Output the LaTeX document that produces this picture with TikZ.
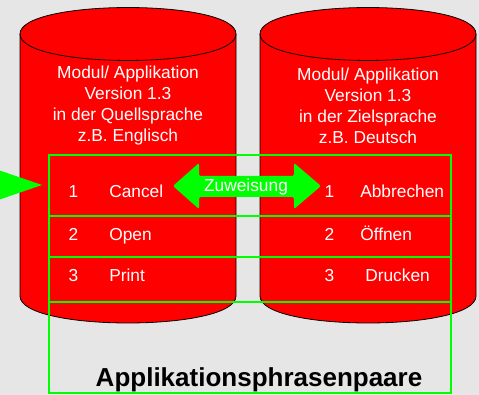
\documentclass[tikz,border=0pt]{standalone}
\usepackage{fontspec}
\setmainfont{Liberation Sans}
\usepackage{tikz}
\definecolor{hgrau}{RGB}{230,230,230}
\definecolor{zrot}{RGB}{255,0,0}
\definecolor{zgruen}{RGB}{0,255,0}
\tikzstyle{zylinder}=[fill=zrot, draw=black, line width=0.6pt]
\tikzstyle{tabelle}=[draw=zgruen, line width=2.2pt]
\tikzstyle{modtext}=[text=white, align=center
,font=\fontsize{13}{15.75}\selectfont
,inner sep=0pt
]
\tikzstyle{zeile}=[text=white, anchor=base west
,font=\fontsize{13}{15.75}\selectfont
,inner sep=0pt
]
\tikzstyle{nummer}=[zeile, anchor=base]
\tikzstyle{pfeil}=[fill=zgruen, rounded corners=1.5pt]

% one database cylinder between x = #1 and x = #2
\newcommand{\zyl}[2]{%
  \path[zylinder] (#1,34) -- (#1,296) .. controls (#1,332) and (#2,332) .. (#2,296)
     -- (#2,34) .. controls (#2,-1.3) and (#1,-1.3) .. (#1,34) -- cycle;
  \draw[line width=0.6pt] (#1,34) .. controls (#1,69.3) and (#2,69.3) .. (#2,34);
}

\begin{document}
\begin{tikzpicture}[x=0.75pt, y=-0.75pt]
    \useasboundingbox (0,0) rectangle (479,395);
    \clip (0,0) rectangle (479,395);
    \fill[hgrau] (0,0) rectangle (479,395);
    % First the two cylinders
    \zyl{20}{236}
    \zyl{260}{476}
    \node[modtext] (quelle) at (128,106) {Modul/ Applikation\\Version 1.3\\in der Quellsprache\\z.B. Englisch};
    \node[modtext] (ziel) at (368,106) {Modul/ Applikation\\Version 1.3\\in der Zielsprache\\z.B. Deutsch};
    % The table of phrase pairs
    \draw[tabelle] (49,155) rectangle (451,393);
    \foreach \y in {216,257,302}
        \draw[tabelle] (49,\y) -- (451,\y);
    \foreach \y/\nr/\quell/\ziel/\zx in {198/1/Cancel/Abbrechen/360, 241/2/Open/Öffnen/360, 282/3/Print/Drucken/365}
    {
        \node[nummer] (qn\nr) at (73.5,\y) {\nr};
        \node[zeile] (q\nr) at (109,\y) {\quell};
        \node[nummer] (zn\nr) at (329.5,\y) {\nr};
        \node[zeile] (z\nr) at (\zx,\y) {\ziel};
    }
    \node[anchor=base, inner sep=0pt, font=\bfseries\fontsize{19.5}{23}\selectfont] (paare) at (259,387) {Applikationsphrasenpaare};
    % Arrows
    \fill[zgruen] (-25,162) -- (42,185) -- (-25,208) -- cycle;
    \path[pfeil] (173,186) -- (199,163) -- (199,176) -- (294,176) -- (294,163) -- (321,186)
        -- (294,209) -- (294,197) -- (199,197) -- (199,209) -- cycle;
    \node[anchor=base, text=white, inner sep=0pt, font=\fontsize{13}{15.75}\selectfont] (zuweisung) at (246,192) {Zuweisung};
\end{tikzpicture}
\end{document}
